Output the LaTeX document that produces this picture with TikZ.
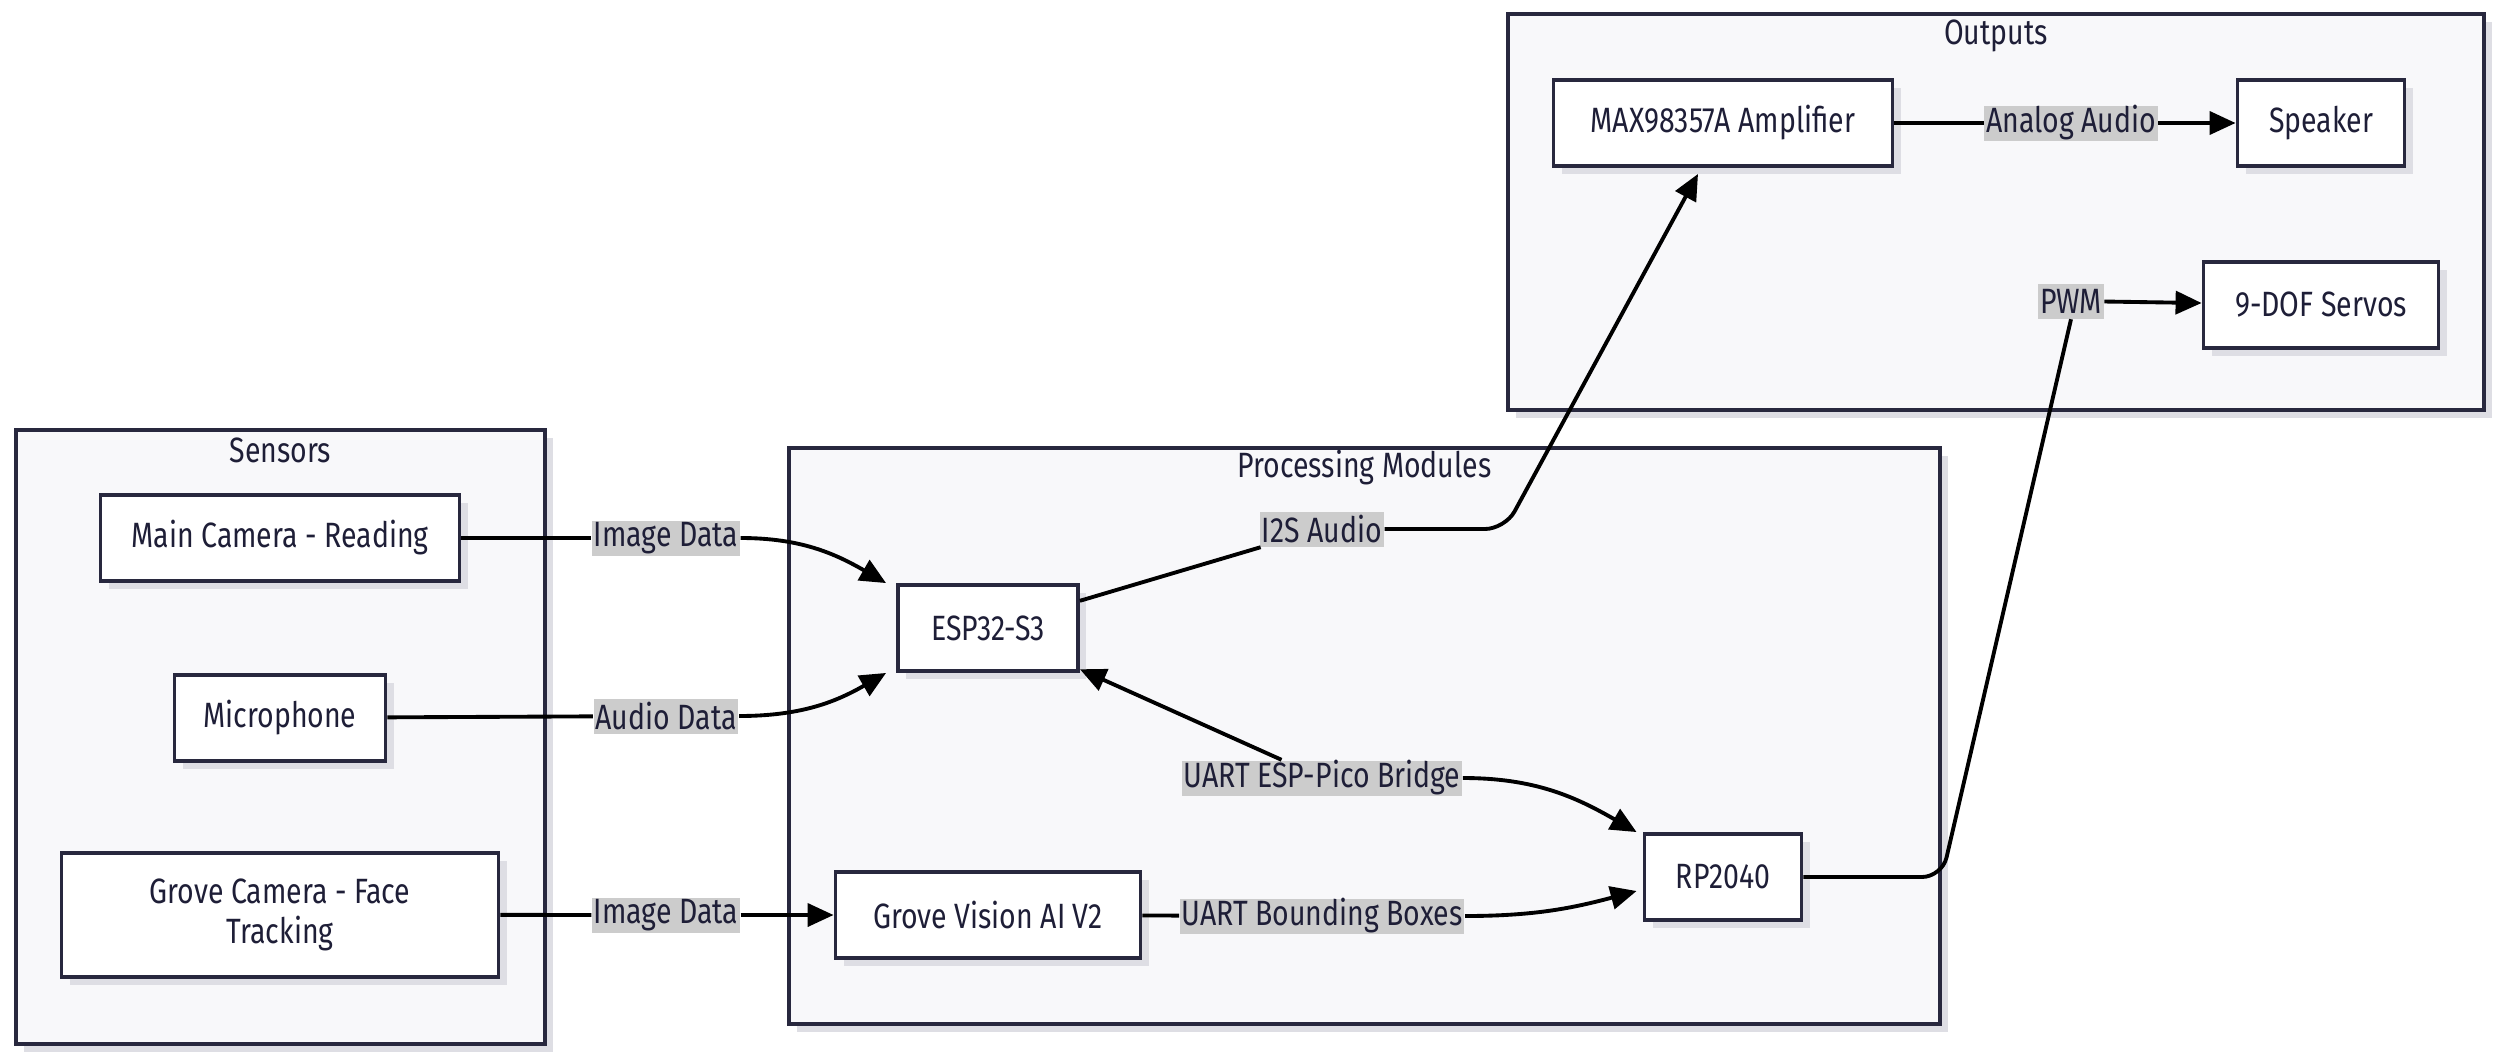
\documentclass[tikz,border=0pt]{standalone}
\usepackage{fontspec}
\setmainfont{Fira Sans}[FakeStretch=0.81]
\usetikzlibrary{positioning,arrows.meta,shadows}

\definecolor{groupfill}{RGB}{248,248,250}
\definecolor{frameline}{RGB}{40,40,62}
\definecolor{inkblue}{RGB}{30,30,55}
\definecolor{labelgray}{RGB}{204,204,204}
\definecolor{shadowgray}{RGB}{222,222,228}

\begin{document}
\begin{tikzpicture}[
  every node/.style={font=\fontsize{10}{11.4}\selectfont, text=inkblue},
  group/.style={draw=frameline, line width=1.1pt, fill=groupfill,
    drop shadow={shadow xshift=0.8mm, shadow yshift=-0.8mm, fill=shadowgray, opacity=1}},
  grouptitle/.style={inner sep=0pt},
  unit/.style={draw=frameline, line width=1.1pt, fill=white, minimum height=8.6mm, align=center,
    drop shadow={shadow xshift=0.8mm, shadow yshift=-0.8mm, fill=shadowgray, opacity=1}},
  tag/.style={fill=labelgray, inner xsep=0.5pt, inner ysep=0pt, minimum height=3.5mm},
  wire/.style={line width=1.1pt, black},
  feed/.style={wire, -{Triangle[length=2.6mm, width=2.3mm]}}]

\useasboundingbox (0,0) rectangle (25,10.58);

% groups
\node[group, minimum width=5.29cm, minimum height=6.14cm] (sensors) at (2.805,3.21) {};
\node[group, minimum width=11.51cm, minimum height=5.76cm] (proc) at (13.645,3.22) {};
\node[group, minimum width=9.76cm, minimum height=3.96cm] (outputs) at (19.96,8.46) {};
\node[grouptitle] (sensorstitle) at ([yshift=-2.2mm]sensors.north) {Sensors};
\node[grouptitle] (proctitle) at ([yshift=-2.1mm]proc.north) {Processing Modules};
\node[grouptitle] (outputstitle) at ([yshift=-2.4mm]outputs.north) {Outputs};

% sensors
\node[unit, minimum width=3.59cm] (maincam) at (2.80,5.20) {Main Camera - Reading};
\node[unit, minimum width=2.11cm, below=0.90cm of maincam] (mic) {Microphone};
\node[unit, minimum width=4.37cm, minimum height=1.24cm, below=0.88cm of mic] (grovecam) {Grove Camera - Face\\Tracking};

% processing
\node[unit, minimum width=1.80cm] (esp) at (9.88,4.30) {ESP32-S3};
\node[unit, minimum width=3.05cm] (vision) at (9.88,1.43) {Grove Vision AI V2};
\node[unit, minimum width=1.57cm] (rp) at (17.23,1.81) {RP2040};

% outputs
\node[unit, minimum width=3.39cm] (amp) at (17.23,9.35) {MAX98357A Amplifier};
\node[unit, minimum width=1.67cm] (speaker) at (23.21,9.35) {Speaker};
\node[unit, minimum width=2.35cm, below=0.92cm of speaker] (servos) {9-DOF Servos};

% edge labels
\node[tag] (imgmain) at (6.66,5.20) {Image Data};
\node[tag] (audio) at (6.66,3.42) {Audio Data};
\node[tag] (imgface) at (6.66,1.43) {Image Data};
\node[tag] (i2s) at (13.22,5.29) {I2S Audio};
\node[tag] (bridge) at (13.22,2.80) {UART ESP-Pico Bridge};
\node[tag] (boxes) at (13.22,1.42) {UART Bounding Boxes};
\node[tag] (analog) at (20.71,9.35) {Analog Audio};
\node[tag] (pwm) at (20.71,7.57) {PWM};

\draw[wire] (maincam) -- (imgmain);
\draw[feed] (imgmain.east) to[out=0,in=150] ([xshift=-1mm]esp.north west);
\draw[wire] (mic) -- (audio);
\draw[feed] (audio.east) to[out=0,in=210] ([xshift=-1mm]esp.south west);
\draw[wire] (grovecam) -- (imgface);
\draw[feed] (imgface) -- (vision);

\draw[wire] (esp) -- (i2s);
\draw[feed, rounded corners=2mm] (i2s.east) -- (15.05,5.29) -- ([xshift=-2.5mm,yshift=-0.6mm]amp.south);
\draw[feed] (bridge) -- (esp);
\draw[feed] (bridge.east) to[out=0,in=150] ([xshift=-0.6mm]rp.north west);
\draw[wire] (vision) -- (boxes);
\draw[feed] (boxes.east) to[out=0,in=195] ([xshift=-0.6mm,yshift=-1.4mm]rp.west);

\draw[wire, rounded corners=2mm] (rp.east) -- (19.42,1.81) -- (pwm.south);
\draw[feed] (pwm) -- (servos);
\draw[wire] (amp) -- (analog);
\draw[feed] (analog) -- (speaker);
\end{tikzpicture}
\end{document}
